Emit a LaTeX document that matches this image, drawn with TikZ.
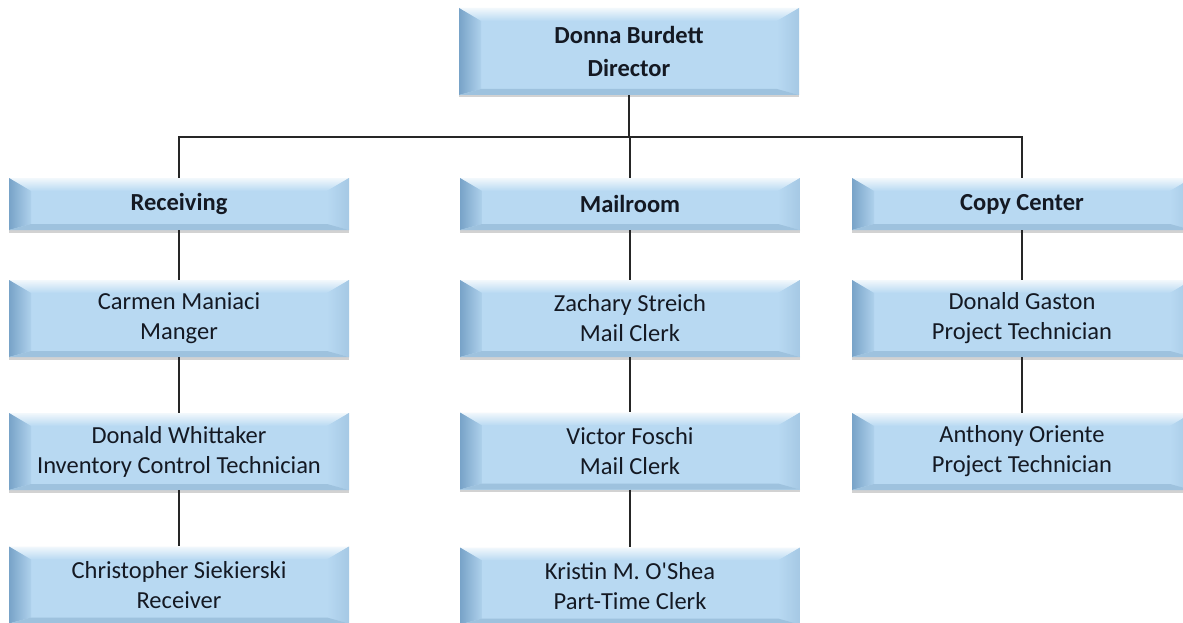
\documentclass[tikz,border=0pt]{standalone}
\usepackage{fontspec}
\setmainfont{Carlito}[Ligatures=TeXOff]
\usetikzlibrary{shadows}
\definecolor{boxmain}{RGB}{184,217,242}
\definecolor{bevtop}{RGB}{242,248,252}
\definecolor{bevleft}{RGB}{120,163,200}
\definecolor{bevright}{RGB}{165,200,228}
\definecolor{bevbot}{RGB}{158,194,222}
\definecolor{txt}{RGB}{20,25,35}
\tikzset{
  x=1pt, y=1pt,
  bevelbox/.style={
    minimum width=340pt, minimum height=#1, inner sep=0pt,
    align=center, text=txt, font=\fontsize{24.5}{30}\selectfont,
    fill=boxmain,
    drop shadow={shadow xshift=0pt, shadow yshift=-2.5pt, opacity=0.35, fill=gray},
    path picture={
      \path (path picture bounding box.south west) coordinate (bSW)
            (path picture bounding box.north east) coordinate (bNE)
            (path picture bounding box.north west) coordinate (bNW)
            (path picture bounding box.south east) coordinate (bSE);
      \shade[top color=bevtop, bottom color=boxmain]
        (bNW) -- (bNE) -- ([xshift=-22pt,yshift=-13pt]bNE) -- ([xshift=22pt,yshift=-13pt]bNW) -- cycle;
      \shade[left color=bevleft, right color=boxmain!85!bevleft]
        (bNW) -- ([xshift=22pt,yshift=-13pt]bNW) -- ([xshift=22pt,yshift=6pt]bSW) -- (bSW) -- cycle;
      \shade[right color=bevright, left color=boxmain]
        (bNE) -- ([xshift=-22pt,yshift=-13pt]bNE) -- ([xshift=-22pt,yshift=6pt]bSE) -- (bSE) -- cycle;
      \fill[bevbot]
        (bSW) -- ([xshift=22pt,yshift=6pt]bSW) -- ([xshift=-22pt,yshift=6pt]bSE) -- (bSE) -- cycle;
    }},
  bigbox/.style={bevelbox=87pt, font=\fontsize{24.5}{33}\selectfont\bfseries},
  deptbox/.style={bevelbox=52pt, font=\fontsize{24.5}{30}\selectfont\bfseries},
  personbox/.style={bevelbox=77pt},
  link/.style={draw=black!85, line width=1.3pt}
}
\begin{document}
\begin{tikzpicture}
\useasboundingbox (0,0) rectangle (1183,-623);
\clip (0,0) rectangle (1183,-623);
\fill[white] (0,0) rectangle (1183,-623);

\node[bigbox] (dir) at (629,-51.5) {Donna Burdett\\Director};

\node[deptbox] (recv) at (179,-204) {Receiving};
\node[deptbox] (mail) at (630,-204) {Mailroom};
\node[deptbox] (copy) at (1022,-204) {Copy Center};

\node[personbox] (carmen) at (179,-318.5) {Carmen Maniaci\\Manger};
\node[personbox] (whit) at (179,-451.5) {Donald Whittaker\\Inventory Control Technician};
\node[personbox] (chris) at (179,-585) {Christopher Siekierski\\Receiver};

\node[personbox] (zach) at (630,-318.5) {Zachary Streich\\Mail Clerk};
\node[personbox] (victor) at (630,-451) {Victor Foschi\\Mail Clerk};
\node[personbox] (kristin) at (630,-586) {Kristin M. O'Shea\\Part-Time Clerk};

\node[personbox] (gaston) at (1022,-318.5) {Donald Gaston\\Project Technician};
\node[personbox] (oriente) at (1022,-451.5) {Anthony Oriente\\Project Technician};

\coordinate (bus) at (629,-137);
\draw[link] (dir.south) -- (bus);
\draw[link] (recv.north) |- (bus) -| (copy.north);
\draw[link] (bus) -- (bus -| mail.north) -- (mail.north);

\draw[link] (recv.south) -- (carmen.north);
\draw[link] (carmen.south) -- (whit.north);
\draw[link] (whit.south) -- (chris.north);

\draw[link] (mail.south) -- (zach.north);
\draw[link] (zach.south) -- (victor.north);
\draw[link] (victor.south) -- (kristin.north);

\draw[link] (copy.south) -- (gaston.north);
\draw[link] (gaston.south) -- (oriente.north);
\end{tikzpicture}
\end{document}
